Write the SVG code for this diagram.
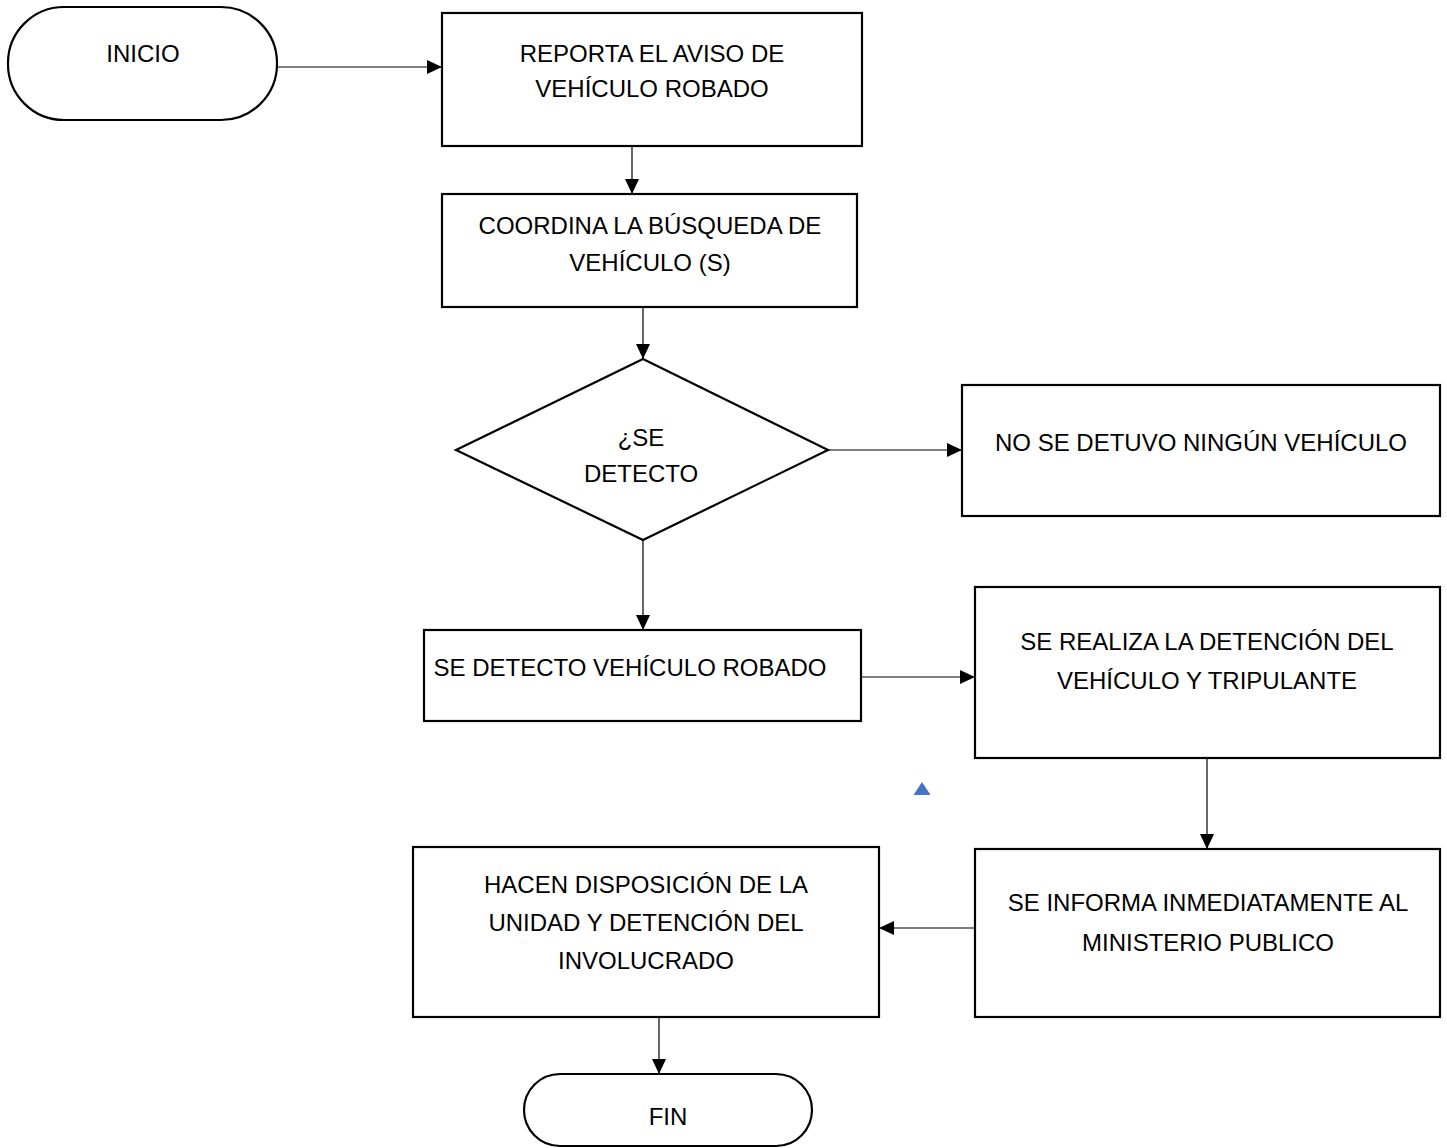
<svg xmlns="http://www.w3.org/2000/svg" width="1447" height="1148" viewBox="0 0 1447 1148">
<defs>
<style>
.s{fill:#fff;stroke:#000;stroke-width:2.2}
.c{fill:none;stroke:#000;stroke-width:1.2}
text{font-family:"Liberation Sans",Arial,sans-serif;font-size:24px;fill:#000;text-anchor:middle}
</style>
<marker id="ah" markerUnits="userSpaceOnUse" markerWidth="16" markerHeight="14" refX="15" refY="7" orient="auto"><path d="M0,0 L15,7 L0,14 Z" fill="#000"/></marker>
</defs>
<rect width="1447" height="1148" fill="#fff"/>
<g id="connectors">
<line class="c" x1="273" y1="67" x2="442" y2="67" marker-end="url(#ah)"/>
<line class="c" x1="632" y1="146" x2="632" y2="194" marker-end="url(#ah)"/>
<line class="c" x1="643" y1="307" x2="643" y2="359" marker-end="url(#ah)"/>
<line class="c" x1="828" y1="450" x2="962" y2="450" marker-end="url(#ah)"/>
<line class="c" x1="643" y1="540" x2="643" y2="630" marker-end="url(#ah)"/>
<line class="c" x1="861" y1="677" x2="975" y2="677" marker-end="url(#ah)"/>
<line class="c" x1="1207" y1="758" x2="1207" y2="849" marker-end="url(#ah)"/>
<line class="c" x1="975" y1="928" x2="879" y2="928" marker-end="url(#ah)"/>
<line class="c" x1="659" y1="1017" x2="659" y2="1074" marker-end="url(#ah)"/>
</g>
<g id="inicio"><rect class="s" x="8" y="7" width="269" height="113" rx="56" ry="56"/><text x="143" y="62">INICIO</text></g>
<g id="reporta"><rect class="s" x="442" y="13" width="420" height="133"/><text x="652" y="62">REPORTA EL AVISO DE</text><text x="652" y="97">VEHÍCULO ROBADO</text></g>
<g id="coordina"><rect class="s" x="442" y="194" width="415" height="113"/><text x="650" y="234">COORDINA LA BÚSQUEDA DE</text><text x="650" y="271">VEHÍCULO (S)</text></g>
<g id="decision"><polygon class="s" points="643,359 828,450 643,540 456,450"/><text x="641" y="446">¿SE</text><text x="641" y="482">DETECTO</text></g>
<g id="no-detuvo"><rect class="s" x="962" y="385" width="478" height="131"/><text x="1201" y="451">NO SE DETUVO NINGÚN VEHÍCULO</text></g>
<g id="se-detecto"><rect class="s" x="424" y="630" width="437" height="91"/><text x="630" y="676">SE DETECTO VEHÍCULO ROBADO</text></g>
<g id="detencion"><rect class="s" x="975" y="587" width="465" height="171"/><text x="1207" y="650">SE REALIZA LA DETENCIÓN DEL</text><text x="1207" y="689">VEHÍCULO Y TRIPULANTE</text></g>
<g id="informa"><rect class="s" x="975" y="849" width="465" height="168"/><text x="1208" y="911">SE INFORMA INMEDIATAMENTE AL</text><text x="1208" y="951">MINISTERIO PUBLICO</text></g>
<g id="hacen"><rect class="s" x="413" y="847" width="466" height="170"/><text x="646" y="893">HACEN DISPOSICIÓN DE LA</text><text x="646" y="931">UNIDAD Y DETENCIÓN DEL</text><text x="646" y="969">INVOLUCRADO</text></g>
<g id="fin"><rect class="s" x="524" y="1074" width="288" height="72" rx="36" ry="36"/><text x="668" y="1125">FIN</text></g>
<g id="marker-triangle"><polygon points="922,782 913.5,795 930.5,795" fill="#4472C4"/></g>
</svg>
